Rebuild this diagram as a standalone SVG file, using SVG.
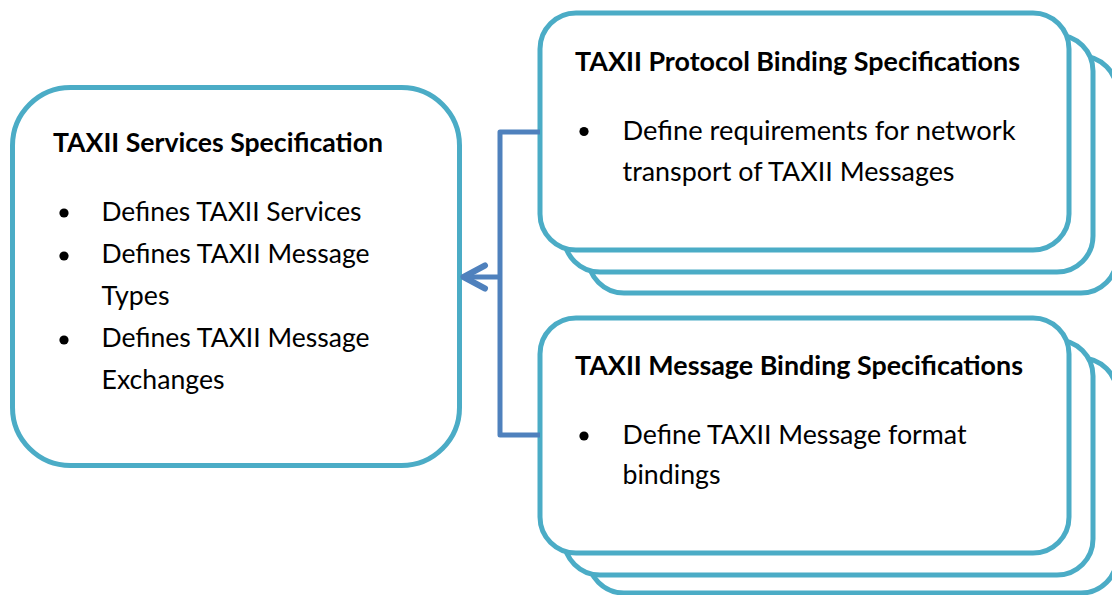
<svg xmlns="http://www.w3.org/2000/svg" width="1112" height="595" viewBox="0 0 1112 595">
  <style>
    .box { fill: #ffffff; stroke: #4BACC6; stroke-width: 5; }
    .title { font-family: Lato, "Liberation Sans", sans-serif; font-weight: bold; font-size: 26px; fill: #000000; }
    .item { font-family: Lato, "Liberation Sans", sans-serif; font-size: 26.5px; fill: #000000; }
    .bullet { fill: #000000; }
    .link { fill: none; stroke: #4F81BD; stroke-width: 5; stroke-linejoin: round; }
    .head { fill: none; stroke: #4F81BD; stroke-width: 6; stroke-linecap: round; stroke-linejoin: round; }
  </style>

  <!-- Services specification -->
  <g id="services">
    <rect class="box" x="12.5" y="87.5" width="447" height="378" rx="58" ry="58"/>
    <text class="title" x="53" y="152" textLength="330" lengthAdjust="spacingAndGlyphs">TAXII Services Specification</text>
    <circle class="bullet" cx="64" cy="213" r="4.6"/>
    <circle class="bullet" cx="64" cy="256" r="4.6"/>
    <circle class="bullet" cx="64" cy="340" r="4.6"/>
    <text class="item" x="101.5" y="221" textLength="260" lengthAdjust="spacingAndGlyphs">Defines TAXII Services</text>
    <text class="item" x="101.5" y="263" textLength="268" lengthAdjust="spacingAndGlyphs">Defines TAXII Message</text>
    <text class="item" x="101.5" y="305" textLength="68" lengthAdjust="spacingAndGlyphs">Types</text>
    <text class="item" x="101.5" y="347" textLength="268" lengthAdjust="spacingAndGlyphs">Defines TAXII Message</text>
    <text class="item" x="101.5" y="389" textLength="123" lengthAdjust="spacingAndGlyphs">Exchanges</text>
  </g>

  <!-- Protocol binding specifications (stack of three) -->
  <g id="protocol-bindings">
    <rect class="box" x="588" y="56" width="529" height="237" rx="36" ry="36"/>
    <rect class="box" x="564" y="35" width="529" height="237" rx="36" ry="36"/>
    <rect class="box" x="540" y="13" width="529" height="237" rx="36" ry="36"/>
    <text class="title" x="575" y="71" textLength="445" lengthAdjust="spacingAndGlyphs">TAXII Protocol Binding Specifications</text>
    <circle class="bullet" cx="584" cy="131.5" r="4.6"/>
    <text class="item" x="622.5" y="139.5" textLength="393" lengthAdjust="spacingAndGlyphs">Define requirements for network</text>
    <text class="item" x="622.5" y="180.5" textLength="332" lengthAdjust="spacingAndGlyphs">transport of TAXII Messages</text>
  </g>

  <!-- Message binding specifications (stack of three) -->
  <g id="message-bindings">
    <rect class="box" x="588" y="358" width="529" height="235" rx="36" ry="36"/>
    <rect class="box" x="564" y="340" width="529" height="235" rx="36" ry="36"/>
    <rect class="box" x="540" y="318" width="529" height="235" rx="36" ry="36"/>
    <text class="title" x="575" y="375" textLength="448" lengthAdjust="spacingAndGlyphs">TAXII Message Binding Specifications</text>
    <circle class="bullet" cx="584" cy="436" r="4.6"/>
    <text class="item" x="622.5" y="444" textLength="344" lengthAdjust="spacingAndGlyphs">Define TAXII Message format</text>
    <text class="item" x="622.5" y="484" textLength="98" lengthAdjust="spacingAndGlyphs">bindings</text>
  </g>

  <!-- Bracket connector feeding into the services box -->
  <g id="connectors">
    <path class="link" d="M540,132 H500 V435 H540"/>
    <path class="link" d="M500,277 H466"/>
    <path class="head" d="M485,265.5 L463.5,277 L485,288.5"/>
  </g>
</svg>
